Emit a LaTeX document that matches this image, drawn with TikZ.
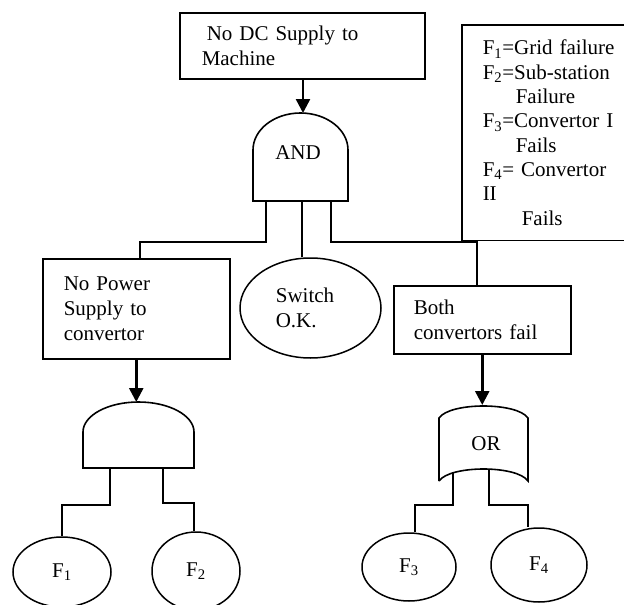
\documentclass[tikz,border=0pt]{standalone}
\usepackage{fontspec}
\setmainfont{Liberation Serif}
\usepackage{tikz}
\usetikzlibrary{arrows.meta, shapes.geometric}

\begin{document}
\begin{tikzpicture}[x = 1pt, y = -1pt,
		every node/.style = {font = \fontsize{21}{25}\selectfont},
		box/.style = {draw, line width = 1.5pt, anchor = north west, align = left, inner ysep = 0pt},
		event/.style = {draw, ellipse, line width = 1.5pt, inner sep = 0pt},
		wire/.style = {line width = 1.6pt},
		feed/.style = {line width = 2.5pt, -{Triangle[length = 14pt, width = 14pt]}}]
			\useasboundingbox (0,0) rectangle (624,605);
			
			% events
			\node[box, draw = none, text width = 170pt, inner xsep = 20pt, minimum height = 214pt, font = \fontsize{21}{24.3}\selectfont] (legend) at (462,25) {F\textsubscript{1}=Grid failure\\F\textsubscript{2}=Sub-station\\\hspace*{33pt}Failure\\F\textsubscript{3}=Convertor I\\\hspace*{33pt}Fails\\F\textsubscript{4}= Convertor\\II\\\hspace*{39pt}Fails};
			\draw[line width = 1.5pt] (legend.north -| 624,0) -- (legend.north west) -- (legend.south west) -- (legend.south -| 624,0);
			\node[box, text width = 201pt, inner xsep = 22pt, minimum height = 66pt] (top) at (179,12) {\hspace*{5pt}No DC Supply to\\Machine};
			\node[box, text width = 145pt, inner xsep = 21pt, minimum height = 100pt] (power) at (42,258) {No Power\\Supply to\\convertor};
			\node[event, minimum width = 141pt, minimum height = 100pt, align = left] (switch) at (310.5,308) {Switch\hspace*{11pt}\\O.K.};
			\node[box, text width = 137pt, inner xsep = 20pt, minimum height = 68pt] (both) at (393,285) {Both\\convertors fail};
			\node[event, minimum width = 98pt, minimum height = 70pt] (f1) at (62,572) {F\textsubscript{1}};
			\node[event, minimum width = 88pt, minimum height = 78pt] (f2) at (196,571) {F\textsubscript{2}};
			\node[event, minimum width = 94pt, minimum height = 68pt] (f3) at (409,567) {F\textsubscript{3}};
			\node[event, minimum width = 96pt, minimum height = 74pt] (f4) at (539,565) {F\textsubscript{4}};
			
			% AND gate, top
			\draw[wire] (253,201) -- (253,150) arc[start angle = 180, end angle = 360, x radius = 47.5, y radius = 37] -- (348,201) -- cycle;
			\node (andlabel) at (298,153) {AND};
			\coordinate (and1in) at (303,113);
			\coordinate (and1l) at (266,201);
			\coordinate (and1m) at (302,201);
			\coordinate (and1r) at (331,201);
			
			% AND gate, left
			\draw[wire] (83,468) -- (83,432) arc[start angle = 180, end angle = 360, x radius = 55.5, y radius = 30] -- (194,468) -- cycle;
			\coordinate (and2in) at (136,402);
			\coordinate (and2l) at (110,468);
			\coordinate (and2r) at (163,468);
			
			% OR gate
			\draw[wire] (439,481) -- (439,418) .. controls (450,402) and (517,402) .. (528,418) -- (528,481) .. controls (517,465) and (450,465) .. (439,481);
			\node (orlabel) at (486,444) {OR};
			\coordinate (orin) at (482,405);
			\coordinate (orl) at (453,472);
			\coordinate (orr) at (489,469);
			
			% connectors
			\draw[feed] (top.south -| and1in) -- (and1in);
			\draw[wire] (and1l) -- (and1l |- 0,242) -| ([xshift = 4pt]power.north);
			\draw[wire] (and1m) -- (and1m |- switch.north);
			\draw[wire] (and1r) -- (and1r |- 0,242) -| ([xshift = -5.5pt]both.north);
			
			\draw[feed] (power.south) -- (power.south |- and2in);
			\draw[wire] (and2l) -- (and2l |- 0,505) -| (f1.north);
			\draw[wire] (and2r) -- (and2r |- 0,503) -| ([xshift = -2pt]f2.north);
			
			\draw[feed] (both.south) -- (both.south |- orin);
			\draw[wire] (orl) -- (orl |- 0,505) -| ([xshift = 6pt]f3.north);
			\draw[wire] (orr) -- (orr |- 0,505) -| ([xshift = -11pt]f4.north);
\end{tikzpicture}
\end{document}
